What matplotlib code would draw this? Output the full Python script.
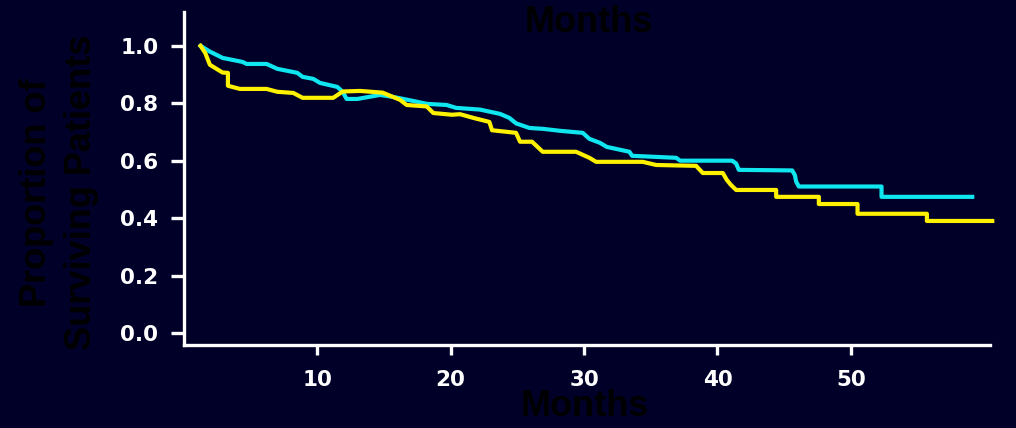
import matplotlib.pyplot as plt

# Courbes de survie (mois, proportion)
cyan_t = [1.25, 1.95, 2.9, 4.4, 4.7, 6.2, 7.0, 8.5, 8.9, 9.7,
          10.2, 11.5, 11.9, 12.2, 13.0, 14.7, 15.7, 17.2, 18.2, 19.7,
          20.4, 22.2, 23.7, 24.4, 24.9, 25.9, 26.9, 28.2, 29.9, 30.4,
          31.2, 31.7, 33.4, 33.6, 36.9, 37.2, 41.1, 41.4, 41.6, 45.6,
          45.8, 45.9, 46.1, 52.3, 52.3, 59.1]
cyan_s = [1.0, 0.98, 0.958, 0.944, 0.937, 0.937, 0.92, 0.906, 0.892, 0.885,
          0.871, 0.857, 0.84, 0.815, 0.815, 0.829, 0.822, 0.808, 0.798, 0.794,
          0.784, 0.778, 0.763, 0.749, 0.73, 0.714, 0.711, 0.704, 0.697, 0.676,
          0.662, 0.648, 0.631, 0.617, 0.61, 0.6, 0.6, 0.59, 0.568, 0.566,
          0.55, 0.527, 0.51, 0.51, 0.474, 0.474]

yellow_t = [1.25, 1.6, 1.95, 2.9, 3.3, 3.3, 4.2, 6.2, 7.0, 8.2,
            8.9, 11.2, 11.9, 13.2, 14.9, 16.2, 16.7, 18.2, 18.7, 20.1,
            20.7, 21.7, 22.9, 23.1, 24.9, 25.2, 26.1, 26.9, 29.4, 30.4,
            30.9, 34.4, 35.4, 38.4, 38.9, 40.4, 40.7, 41.0, 41.4, 44.4,
            44.4, 47.6, 47.6, 50.5, 50.5, 55.7, 55.7, 60.6]
yellow_s = [1.0, 0.975, 0.934, 0.907, 0.906, 0.861, 0.85, 0.85, 0.84, 0.836,
            0.819, 0.819, 0.841, 0.843, 0.837, 0.812, 0.794, 0.789, 0.766, 0.76,
            0.762, 0.749, 0.735, 0.706, 0.697, 0.666, 0.666, 0.631, 0.631, 0.61,
            0.596, 0.596, 0.585, 0.582, 0.557, 0.557, 0.533, 0.516, 0.498, 0.498,
            0.474, 0.474, 0.449, 0.449, 0.415, 0.415, 0.39, 0.39]

x_ticks = [10, 20, 30, 40, 50]
y_ticks = [0.0, 0.2, 0.4, 0.6, 0.8, 1.0]

bg = '#000028'
fig = plt.figure(figsize=(10.16, 4.28), dpi=100, facecolor=bg)
ax = fig.add_axes([0.181, 0.194, 0.793, 0.778], facecolor=bg)

ax.plot(cyan_t, cyan_s, color='#10E6F0', lw=3, clip_on=False)
ax.plot(yellow_t, yellow_s, color='#FFF200', lw=3, clip_on=False)

ax.set_xlim(0, 60.4)
ax.set_ylim(-0.042, 1.118)

for s in ['top', 'right']:
    ax.spines[s].set_visible(False)
for s in ['left', 'bottom']:
    ax.spines[s].set_color('white')
    ax.spines[s].set_linewidth(2.4)

ax.set_xticks(x_ticks)
ax.set_yticks(y_ticks)
ax.set_yticklabels(['%.1f' % v for v in y_ticks])
ax.tick_params(axis='y', colors='white', length=9.5, width=2.4, pad=9,
               labelsize=15.5)
ax.tick_params(axis='x', colors='white', length=7, width=2.4, pad=11,
               labelsize=15.5)
for lab in ax.get_xticklabels() + ax.get_yticklabels():
    lab.set_fontweight('heavy')

# Textes en noir sur fond sombre
font = {'family': 'Liberation Sans', 'weight': 'bold', 'size': 26, 'color': 'black'}
fig.text(0.58, 0.948, 'Months', ha='center', va='center', **font)
fig.text(0.576, 0.028, 'Months', ha='center', va='baseline', **font)
fig.text(0.058, 0.55, 'Proportion of\nSurviving Patients', ha='center',
         va='center', rotation=90, linespacing=1.35, **font)

plt.savefig('out.png', dpi=100, facecolor=bg)
